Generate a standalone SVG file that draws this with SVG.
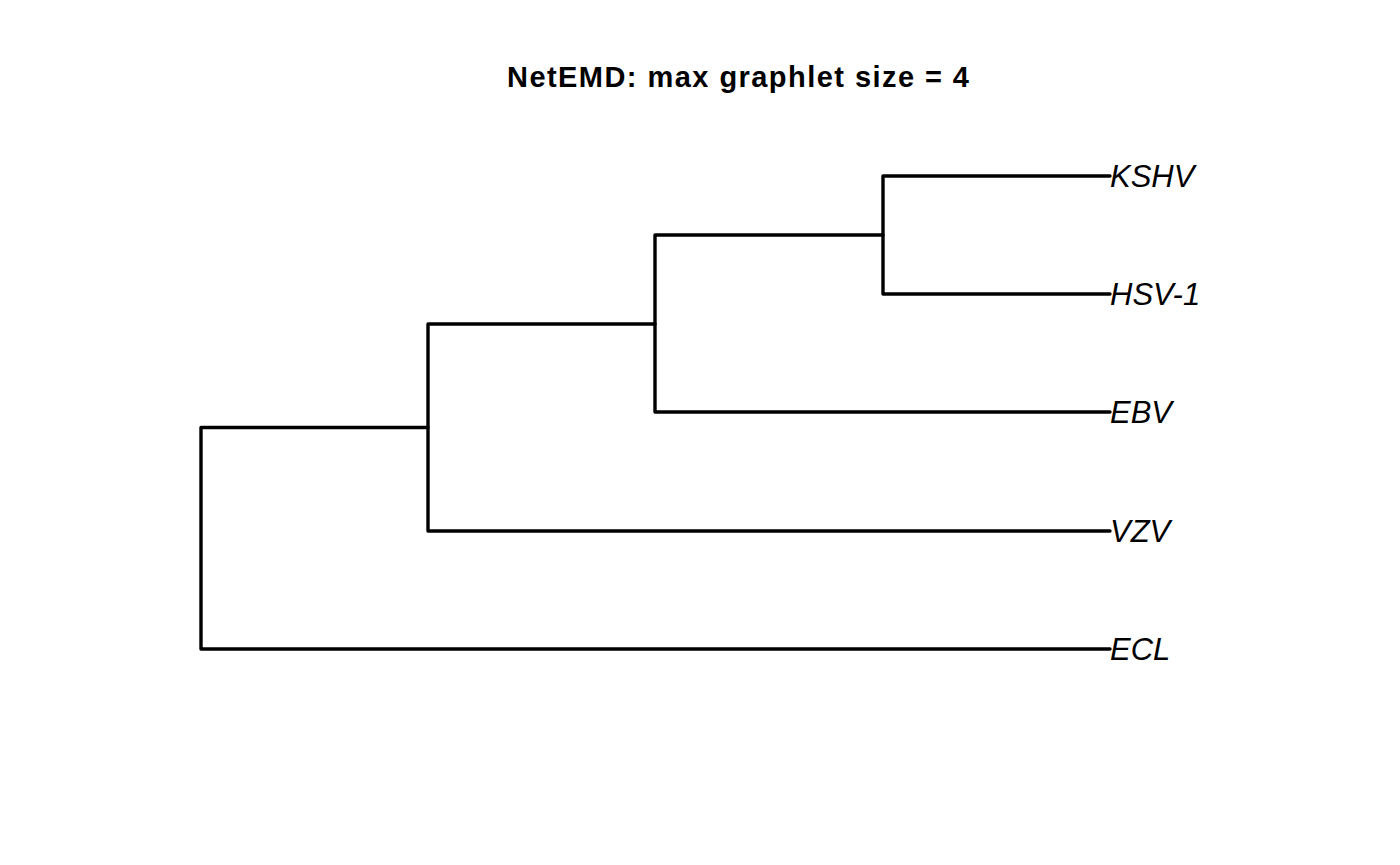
<svg xmlns="http://www.w3.org/2000/svg" width="1400" height="865" viewBox="0 0 1400 865">
<style>
.t{font-family:"Liberation Sans",Arial,sans-serif;font-weight:bold;font-size:29px;fill:#000}
.l{font-family:"Liberation Sans",Arial,sans-serif;font-style:italic;font-size:31px;fill:#000}
.e{fill:none;stroke:#000;stroke-width:3.4;stroke-linecap:round;stroke-linejoin:round}
</style>
<rect width="1400" height="865" fill="#fff"/>
<text class="t" x="507" y="87" textLength="462" lengthAdjust="spacing">NetEMD: max graphlet size = 4</text>
<g id="connectors">
<path class="e" d="M1110,176 H883 V294 H1110"/>
<path class="e" d="M883,235 H655 V412 H1110"/>
<path class="e" d="M655,324 H428 V531 H1110"/>
<path class="e" d="M428,427.5 H201 V649 H1110"/>
</g>
<g id="KSHV"><text class="l" x="1110" y="187">KSHV</text></g>
<g id="HSV-1"><text class="l" x="1110" y="305">HSV-1</text></g>
<g id="EBV"><text class="l" x="1110" y="423">EBV</text></g>
<g id="VZV"><text class="l" x="1110" y="542">VZV</text></g>
<g id="ECL"><text class="l" x="1110" y="660">ECL</text></g>
</svg>
